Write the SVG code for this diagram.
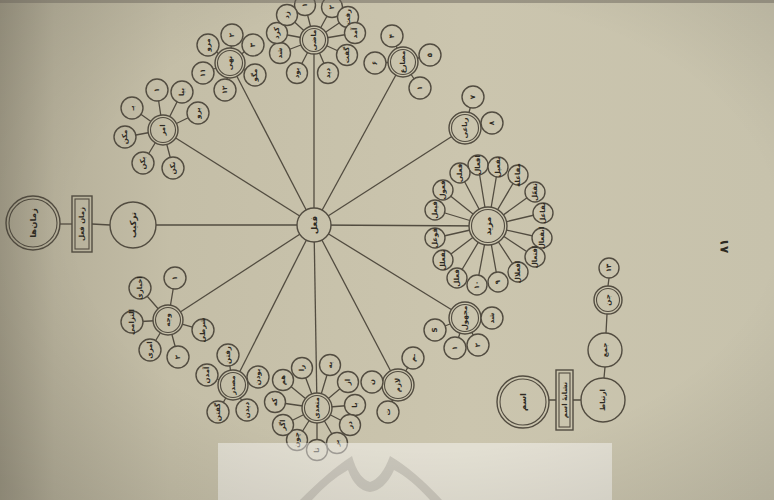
<svg xmlns="http://www.w3.org/2000/svg" width="774" height="500" viewBox="0 0 774 500">
<defs>
<linearGradient id="paper" gradientUnits="userSpaceOnUse" x1="0" y1="0" x2="774" y2="0">
<stop offset="0" stop-color="#9f9985"/>
<stop offset="0.07" stop-color="#b6b09a"/>
<stop offset="0.22" stop-color="#c4bea7"/>
<stop offset="0.6" stop-color="#cbc5ae"/>
<stop offset="1" stop-color="#c7c2ac"/>
</linearGradient>
<radialGradient id="vig" cx="0.55" cy="0.45" r="0.75">
<stop offset="0.6" stop-color="#000" stop-opacity="0"/>
<stop offset="1" stop-color="#000" stop-opacity="0.12"/>
</radialGradient>
<style>
.c{fill:url(#paper);stroke:#524c40;stroke-width:1.4}
.i{fill:none;stroke:#524c40;stroke-width:1.1}
.l{stroke:#524c40;stroke-width:1.3;fill:none}
.t{font-family:"DejaVu Sans",sans-serif;font-size:7px;font-weight:bold;fill:#2e2a22;text-anchor:middle;dominant-baseline:central}
.h{font-size:8.5px}
</style>
</defs>
<rect width="774" height="500" fill="url(#paper)"/>

<g id="connectors">
<line class="l" x1="314" y1="225" x2="156" y2="225"/>
<line class="l" x1="314" y1="225" x2="163" y2="130"/>
<line class="l" x1="314" y1="225" x2="230" y2="63"/>
<line class="l" x1="314" y1="225" x2="314" y2="40"/>
<line class="l" x1="314" y1="225" x2="403" y2="62"/>
<line class="l" x1="314" y1="225" x2="465" y2="128"/>
<line class="l" x1="314" y1="225" x2="488" y2="226"/>
<line class="l" x1="314" y1="225" x2="465" y2="318"/>
<line class="l" x1="314" y1="225" x2="398" y2="385"/>
<line class="l" x1="314" y1="225" x2="317" y2="408"/>
<line class="l" x1="314" y1="225" x2="233" y2="385"/>
<line class="l" x1="314" y1="225" x2="168" y2="320"/>
<line class="l" x1="110" y1="225" x2="92" y2="224"/>
<line class="l" x1="72" y1="224" x2="59" y2="224"/>
<path class="l" d="M163,130L157,90M163,130L182,92M163,130L198,113M163,130L132,108M163,130L125,137M163,130L143,163M163,130L173,168"/>
<path class="l" d="M230,63L232,35M230,63L208,45M230,63L203,73M230,63L225,90M230,63L255,75M230,63L253,45"/>
<path class="l" d="M314,40L305,5M314,40L332,7M314,40L348,17M314,40L355,33M314,40L347,55M314,40L328,73M314,40L297,73M314,40L280,53M314,40L277,33M314,40L287,15"/>
<path class="l" d="M403,62L375,63M403,62L430,55M403,62L420,88M403,62L392,36"/>
<path class="l" d="M465,128L473,97M465,128L492,123"/>
<path class="l" d="M488,226L478,165M488,226L498,167M488,226L518,175M488,226L535,192M488,226L543,213M488,226L542,238M488,226L535,257M488,226L518,272M488,226L498,282M488,226L477,285M488,226L457,278M488,226L443,260M488,226L435,238M488,226L435,210M488,226L443,190M488,226L460,173"/>
<path class="l" d="M465,318L492,318M465,318L478,345M465,318L455,348M465,318L435,330"/>
<path class="l" d="M398,385L413,358M398,385L372,382M398,385L388,412"/>
<path class="l" d="M317,408L302,368M317,408L330,365M317,408L348,382M317,408L355,405M317,408L350,425M317,408L337,443M317,408L317,450M317,408L297,440M317,408L283,425M317,408L275,402M317,408L283,380"/>
<path class="l" d="M233,385L228,355M233,385L207,375M233,385L218,412M233,385L247,410M233,385L258,377"/>
<path class="l" d="M168,320L175,278M168,320L140,288M168,320L132,322M168,320L150,350M168,320L178,357M168,320L203,330"/>
<path class="l" d="M549,400L556,400M573,400L581,400M604,378L605,367M606,333L607,314M608,286L609,278"/>
</g>

<g id="center"><circle class="c" cx="314" cy="225" r="17"/><text class="t h" transform="translate(314,225) rotate(-90)">فعل</text></g>

<g id="left-chain">
<circle class="c" cx="133" cy="225" r="23"/><text class="t h" transform="translate(133,225) rotate(-90)">ترکیب</text>
<rect class="c" x="72" y="196" width="20" height="56"/><rect class="i" x="75" y="199" width="14" height="50"/><text class="t" transform="translate(82,224) rotate(-90)">زمان فعل</text>
<circle class="c" cx="33" cy="223" r="27"/><circle class="i" cx="33" cy="223" r="24"/><text class="t h" transform="translate(33,223) rotate(-90)">زمان‌ها</text>
</g>

<g id="cluster-B">
<circle class="c" cx="163" cy="130" r="15"/><circle class="i" cx="163" cy="130" r="12.5"/><text class="t" transform="translate(163,130) rotate(-90)">امر</text>
<circle class="c" cx="157" cy="90" r="11"/><text class="t" transform="translate(157,90) rotate(-90)">۱</text>
<circle class="c" cx="182" cy="92" r="11"/><text class="t" transform="translate(182,92) rotate(-90)">بیا</text>
<circle class="c" cx="198" cy="113" r="11"/><text class="t" transform="translate(198,113) rotate(-90)">برو</text>
<circle class="c" cx="132" cy="108" r="11"/><text class="t" transform="translate(132,108) rotate(-90)">بـ</text>
<circle class="c" cx="125" cy="137" r="11"/><text class="t" transform="translate(125,137) rotate(-90)">مکن</text>
<circle class="c" cx="143" cy="163" r="11"/><text class="t" transform="translate(143,163) rotate(-90)">بکن</text>
<circle class="c" cx="173" cy="168" r="11"/><text class="t" transform="translate(173,168) rotate(-90)">نکن</text>
</g>

<g id="cluster-C">
<circle class="c" cx="230" cy="63" r="15"/><circle class="i" cx="230" cy="63" r="12.5"/><text class="t" transform="translate(230,63) rotate(-90)">نهی</text>
<circle class="c" cx="232" cy="35" r="11"/><text class="t" transform="translate(232,35) rotate(-90)">۲</text>
<circle class="c" cx="208" cy="45" r="11"/><text class="t" transform="translate(208,45) rotate(-90)">مرو</text>
<circle class="c" cx="203" cy="73" r="11"/><text class="t" transform="translate(203,73) rotate(-90)">۱۱</text>
<circle class="c" cx="225" cy="90" r="11"/><text class="t" transform="translate(225,90) rotate(-90)">۱۲</text>
<circle class="c" cx="255" cy="75" r="11"/><text class="t" transform="translate(255,75) rotate(-90)">مگو</text>
<circle class="c" cx="253" cy="45" r="11"/><text class="t" transform="translate(253,45) rotate(-90)">۳</text>
</g>

<g id="cluster-D">
<circle class="c" cx="314" cy="40" r="14"/><circle class="i" cx="314" cy="40" r="11.5"/><text class="t" transform="translate(314,40) rotate(-90)">ماضی</text>
<circle class="c" cx="305" cy="5" r="10.5"/><text class="t" transform="translate(305,5) rotate(-90)">۱</text>
<circle class="c" cx="332" cy="7" r="10.5"/><text class="t" transform="translate(332,7) rotate(-90)">۲</text>
<circle class="c" cx="348" cy="17" r="10.5"/><text class="t" transform="translate(348,17) rotate(-90)">رفت</text>
<circle class="c" cx="355" cy="33" r="10.5"/><text class="t" transform="translate(355,33) rotate(-90)">آمد</text>
<circle class="c" cx="347" cy="55" r="10.5"/><text class="t" transform="translate(347,55) rotate(-90)">گفت</text>
<circle class="c" cx="328" cy="73" r="10.5"/><text class="t" transform="translate(328,73) rotate(-90)">دید</text>
<circle class="c" cx="297" cy="73" r="10.5"/><text class="t" transform="translate(297,73) rotate(-90)">بود</text>
<circle class="c" cx="280" cy="53" r="10.5"/><text class="t" transform="translate(280,53) rotate(-90)">شد</text>
<circle class="c" cx="277" cy="33" r="10.5"/><text class="t" transform="translate(277,33) rotate(-90)">کرد</text>
<circle class="c" cx="287" cy="15" r="10.5"/><text class="t" transform="translate(287,15) rotate(-90)">زد</text>
</g>

<g id="cluster-E">
<circle class="c" cx="403" cy="62" r="15"/><circle class="i" cx="403" cy="62" r="12.5"/><text class="t" transform="translate(403,62) rotate(-90)">مضارع</text>
<circle class="c" cx="375" cy="63" r="11"/><text class="t" transform="translate(375,63) rotate(-90)">۶</text>
<circle class="c" cx="430" cy="55" r="11"/><text class="t" transform="translate(430,55) rotate(-90)">۵</text>
<circle class="c" cx="420" cy="88" r="11"/><text class="t" transform="translate(420,88) rotate(-90)">۱</text>
<circle class="c" cx="392" cy="36" r="11"/><text class="t" transform="translate(392,36) rotate(-90)">۴</text>
</g>

<g id="cluster-F">
<circle class="c" cx="465" cy="128" r="16"/><circle class="i" cx="465" cy="128" r="13.5"/><text class="t" transform="translate(465,128) rotate(-90)">رباعی</text>
<circle class="c" cx="473" cy="97" r="11"/><text class="t" transform="translate(473,97) rotate(-90)">۷</text>
<circle class="c" cx="492" cy="123" r="11"/><text class="t" transform="translate(492,123) rotate(-90)">۸</text>
</g>

<g id="cluster-G">
<circle class="c" cx="488" cy="226" r="19"/><circle class="i" cx="488" cy="226" r="16.5"/><text class="t h" transform="translate(488,226) rotate(-90)">مزید</text>
<circle class="c" cx="478" cy="165" r="10"/><text class="t" transform="translate(478,165) rotate(-90)">افعال</text>
<circle class="c" cx="498" cy="167" r="10"/><text class="t" transform="translate(498,167) rotate(-90)">تفعیل</text>
<circle class="c" cx="518" cy="175" r="10"/><text class="t" transform="translate(518,175) rotate(-90)">مفاعله</text>
<circle class="c" cx="535" cy="192" r="10"/><text class="t" transform="translate(535,192) rotate(-90)">تفعّل</text>
<circle class="c" cx="543" cy="213" r="10"/><text class="t" transform="translate(543,213) rotate(-90)">تفاعل</text>
<circle class="c" cx="542" cy="238" r="10"/><text class="t" transform="translate(542,238) rotate(-90)">انفعال</text>
<circle class="c" cx="535" cy="257" r="10"/><text class="t" transform="translate(535,257) rotate(-90)">افتعال</text>
<circle class="c" cx="518" cy="272" r="10"/><text class="t" transform="translate(518,272) rotate(-90)">افعلال</text>
<circle class="c" cx="498" cy="282" r="10"/><text class="t" transform="translate(498,282) rotate(-90)">۹</text>
<circle class="c" cx="477" cy="285" r="10"/><text class="t" transform="translate(477,285) rotate(-90)">۱۰</text>
<circle class="c" cx="457" cy="278" r="10"/><text class="t" transform="translate(457,278) rotate(-90)">فعلل</text>
<circle class="c" cx="443" cy="260" r="10"/><text class="t" transform="translate(443,260) rotate(-90)">تفعلل</text>
<circle class="c" cx="435" cy="238" r="10"/><text class="t" transform="translate(435,238) rotate(-90)">فوعل</text>
<circle class="c" cx="435" cy="210" r="10"/><text class="t" transform="translate(435,210) rotate(-90)">فیعل</text>
<circle class="c" cx="443" cy="190" r="10"/><text class="t" transform="translate(443,190) rotate(-90)">فعول</text>
<circle class="c" cx="460" cy="173" r="10"/><text class="t" transform="translate(460,173) rotate(-90)">فعلی</text>
</g>

<g id="cluster-H">
<circle class="c" cx="465" cy="318" r="16"/><circle class="i" cx="465" cy="318" r="13.5"/><text class="t" transform="translate(465,318) rotate(-90)">مجهول</text>
<circle class="c" cx="492" cy="318" r="11"/><text class="t" transform="translate(492,318) rotate(-90)">شد</text>
<circle class="c" cx="478" cy="345" r="11"/><text class="t" transform="translate(478,345) rotate(-90)">۲</text>
<circle class="c" cx="455" cy="348" r="11"/><text class="t" transform="translate(455,348) rotate(-90)">۱</text>
<circle class="c" cx="435" cy="330" r="11"/><text class="t" transform="translate(435,330) rotate(-90)">S</text>
</g>

<g id="cluster-I">
<circle class="c" cx="398" cy="385" r="16"/><circle class="i" cx="398" cy="385" r="13.5"/><text class="t" transform="translate(398,385) rotate(-90)">لازم</text>
<circle class="c" cx="413" cy="358" r="11"/><text class="t" transform="translate(413,358) rotate(-90)">ـم</text>
<circle class="c" cx="372" cy="382" r="11"/><text class="t" transform="translate(372,382) rotate(-90)">ن</text>
<circle class="c" cx="388" cy="412" r="11"/><text class="t" transform="translate(388,412) rotate(-90)">ت</text>
</g>

<g id="cluster-J">
<circle class="c" cx="317" cy="408" r="15"/><circle class="i" cx="317" cy="408" r="12.5"/><text class="t" transform="translate(317,408) rotate(-90)">متعدی</text>
<circle class="c" cx="302" cy="368" r="10.5"/><text class="t" transform="translate(302,368) rotate(-90)">را</text>
<circle class="c" cx="330" cy="365" r="10.5"/><text class="t" transform="translate(330,365) rotate(-90)">به</text>
<circle class="c" cx="348" cy="382" r="10.5"/><text class="t" transform="translate(348,382) rotate(-90)">از</text>
<circle class="c" cx="355" cy="405" r="10.5"/><text class="t" transform="translate(355,405) rotate(-90)">با</text>
<circle class="c" cx="350" cy="425" r="10.5"/><text class="t" transform="translate(350,425) rotate(-90)">در</text>
<circle class="c" cx="337" cy="443" r="10.5"/><text class="t" transform="translate(337,443) rotate(-90)">بر</text>
<circle class="c" cx="317" cy="450" r="10.5"/><text class="t" transform="translate(317,450) rotate(-90)">تا</text>
<circle class="c" cx="297" cy="440" r="10.5"/><text class="t" transform="translate(297,440) rotate(-90)">چون</text>
<circle class="c" cx="283" cy="425" r="10.5"/><text class="t" transform="translate(283,425) rotate(-90)">اگر</text>
<circle class="c" cx="275" cy="402" r="10.5"/><text class="t" transform="translate(275,402) rotate(-90)">که</text>
<circle class="c" cx="283" cy="380" r="10.5"/><text class="t" transform="translate(283,380) rotate(-90)">هم</text>
</g>

<g id="cluster-K">
<circle class="c" cx="233" cy="385" r="15"/><circle class="i" cx="233" cy="385" r="12.5"/><text class="t" transform="translate(233,385) rotate(-90)">مصدر</text>
<circle class="c" cx="228" cy="355" r="11"/><text class="t" transform="translate(228,355) rotate(-90)">رفتن</text>
<circle class="c" cx="207" cy="375" r="11"/><text class="t" transform="translate(207,375) rotate(-90)">آمدن</text>
<circle class="c" cx="218" cy="412" r="11"/><text class="t" transform="translate(218,412) rotate(-90)">گفتن</text>
<circle class="c" cx="247" cy="410" r="11"/><text class="t" transform="translate(247,410) rotate(-90)">دیدن</text>
<circle class="c" cx="258" cy="377" r="11"/><text class="t" transform="translate(258,377) rotate(-90)">بودن</text>
</g>

<g id="cluster-L">
<circle class="c" cx="168" cy="320" r="15"/><circle class="i" cx="168" cy="320" r="12.5"/><text class="t" transform="translate(168,320) rotate(-90)">وجه</text>
<circle class="c" cx="175" cy="278" r="11"/><text class="t" transform="translate(175,278) rotate(-90)">۱</text>
<circle class="c" cx="140" cy="288" r="11"/><text class="t" transform="translate(140,288) rotate(-90)">اخباری</text>
<circle class="c" cx="132" cy="322" r="11"/><text class="t" transform="translate(132,322) rotate(-90)">التزامی</text>
<circle class="c" cx="150" cy="350" r="11"/><text class="t" transform="translate(150,350) rotate(-90)">امری</text>
<circle class="c" cx="178" cy="357" r="11"/><text class="t" transform="translate(178,357) rotate(-90)">۲</text>
<circle class="c" cx="203" cy="330" r="11"/><text class="t" transform="translate(203,330) rotate(-90)">شرطی</text>
</g>

<g id="group-2">
<circle class="c" cx="523" cy="402" r="26"/><circle class="i" cx="523" cy="402" r="23"/><text class="t h" transform="translate(523,402) rotate(-90)">اسم</text>
<rect class="c" x="556" y="370" width="17" height="60"/><rect class="i" x="559" y="373" width="11" height="54"/><text class="t" transform="translate(564.5,400) rotate(-90)">نشانهٔ اسم</text>
<circle class="c" cx="603" cy="400" r="22"/><text class="t" transform="translate(603,400) rotate(-90)">ارتباط</text>
<circle class="c" cx="605" cy="350" r="17"/><text class="t" transform="translate(605,350) rotate(-90)">جمع</text>
<circle class="c" cx="608" cy="300" r="14"/><circle class="i" cx="608" cy="300" r="11.5"/><text class="t" transform="translate(608,300) rotate(-90)">جن</text>
<circle class="c" cx="609" cy="268" r="10"/><text class="t" transform="translate(609,268) rotate(-90)">۱۳</text>
</g>

<text class="t" style="font-size:12px" transform="translate(724,246) rotate(-90)">٨١</text>

<rect x="218" y="443" width="394" height="57" fill="#ffffff" opacity="0.45"/>
<path d="M300,500 Q330,470 352,456 Q358,478 370,482 Q382,478 390,456 Q414,470 442,500 L430,500 Q410,478 394,470 Q385,490 370,492 Q355,490 348,470 Q330,480 312,500 Z" fill="#a9a59b" opacity="0.45"/>
<rect width="774" height="500" fill="url(#vig)"/>
<rect x="0" y="0" width="774" height="3" fill="#6b665c" opacity="0.5"/>
</svg>
